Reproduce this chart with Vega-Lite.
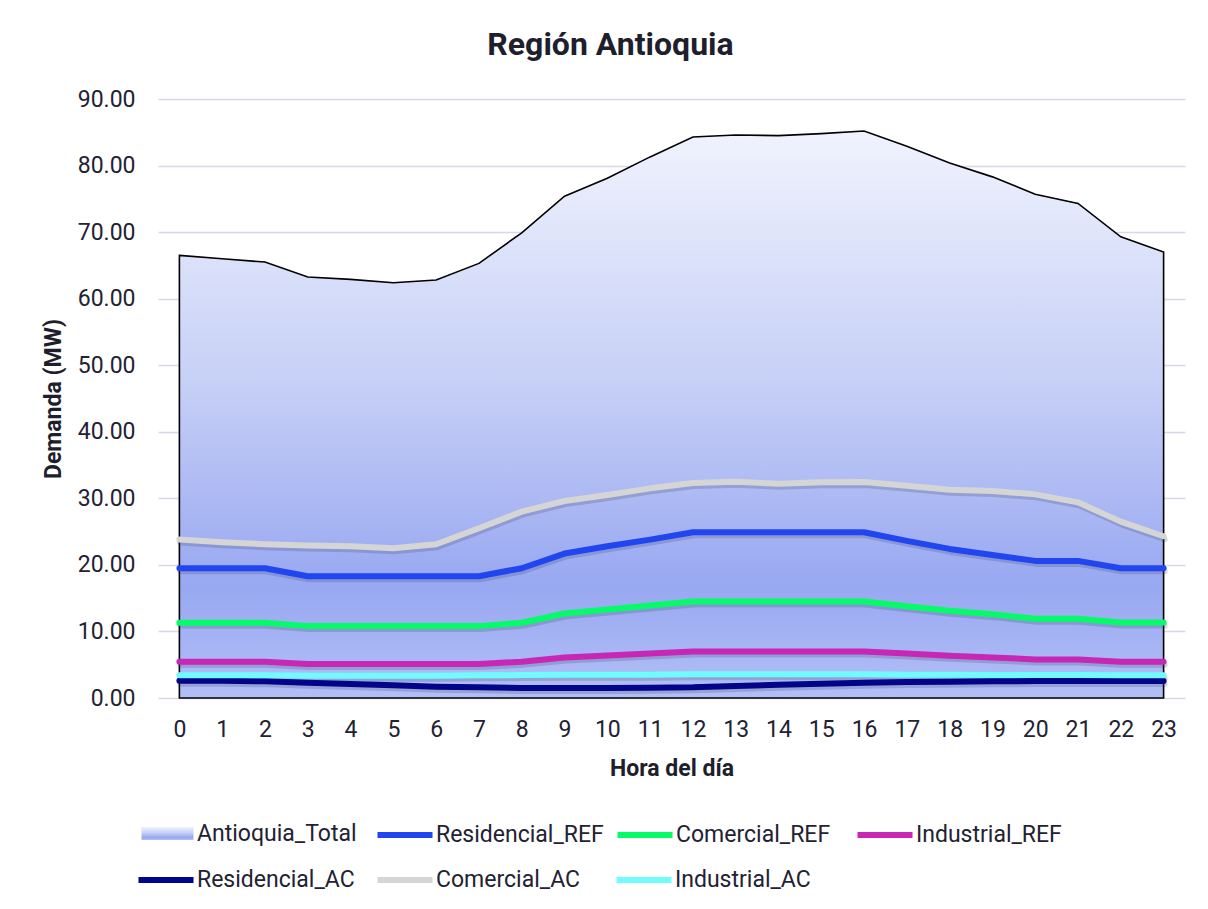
{
  "$schema": "https://vega.github.io/schema/vega-lite/v6.json",
  "width": 1027,
  "height": 599,
  "autosize": {"type": "none"},
  "padding": {"left": 158, "top": 99, "right": 23, "bottom": 211},
  "background": "white",
  "config": {
    "font": "Roboto",
    "view": {"stroke": null},
    "legend": {
      "title": null,
      "orient": "none",
      "direction": "horizontal",
      "gridAlign": "all",
      "padding": 0,
      "symbolSize": 400,
      "labelOffset": 18,
      "labelFontSize": 23,
      "labelFont": "Roboto",
      "labelColor": "#222232",
      "labelLimit": 300
    }
  },
  "title": {
    "text": "Región Antioquia",
    "font": "Roboto",
    "fontSize": 32,
    "fontWeight": "bold",
    "color": "#1e1e2d",
    "anchor": "middle",
    "dx": -61,
    "baseline": "alphabetic",
    "offset": 1
  },
  "data": {
    "values": [
      {"h": 0, "Antioquia_Total": 66.5, "Residencial_REF": 19.5, "Comercial_REF": 11.3, "Industrial_REF": 5.45, "Residencial_AC": 2.6, "Comercial_AC": 23.8, "Industrial_AC": 3.4},
      {"h": 1, "Antioquia_Total": 66.0, "Residencial_REF": 19.5, "Comercial_REF": 11.3, "Industrial_REF": 5.45, "Residencial_AC": 2.6, "Comercial_AC": 23.4, "Industrial_AC": 3.4},
      {"h": 2, "Antioquia_Total": 65.5, "Residencial_REF": 19.5, "Comercial_REF": 11.3, "Industrial_REF": 5.45, "Residencial_AC": 2.5, "Comercial_AC": 23.1, "Industrial_AC": 3.4},
      {"h": 3, "Antioquia_Total": 63.25, "Residencial_REF": 18.3, "Comercial_REF": 10.8, "Industrial_REF": 5.1, "Residencial_AC": 2.3, "Comercial_AC": 22.9, "Industrial_AC": 3.35},
      {"h": 4, "Antioquia_Total": 62.9, "Residencial_REF": 18.3, "Comercial_REF": 10.8, "Industrial_REF": 5.1, "Residencial_AC": 2.1, "Comercial_AC": 22.8, "Industrial_AC": 3.35},
      {"h": 5, "Antioquia_Total": 62.4, "Residencial_REF": 18.3, "Comercial_REF": 10.8, "Industrial_REF": 5.1, "Residencial_AC": 1.9, "Comercial_AC": 22.5, "Industrial_AC": 3.35},
      {"h": 6, "Antioquia_Total": 62.8, "Residencial_REF": 18.3, "Comercial_REF": 10.8, "Industrial_REF": 5.1, "Residencial_AC": 1.7, "Comercial_AC": 23.1, "Industrial_AC": 3.35},
      {"h": 7, "Antioquia_Total": 65.3, "Residencial_REF": 18.3, "Comercial_REF": 10.8, "Industrial_REF": 5.1, "Residencial_AC": 1.6, "Comercial_AC": 25.5, "Industrial_AC": 3.4},
      {"h": 8, "Antioquia_Total": 69.9, "Residencial_REF": 19.5, "Comercial_REF": 11.3, "Industrial_REF": 5.45, "Residencial_AC": 1.5, "Comercial_AC": 28.0, "Industrial_AC": 3.45},
      {"h": 9, "Antioquia_Total": 75.4, "Residencial_REF": 21.7, "Comercial_REF": 12.7, "Industrial_REF": 6.1, "Residencial_AC": 1.5, "Comercial_AC": 29.6, "Industrial_AC": 3.5},
      {"h": 10, "Antioquia_Total": 78.1, "Residencial_REF": 22.8, "Comercial_REF": 13.3, "Industrial_REF": 6.4, "Residencial_AC": 1.5, "Comercial_AC": 30.5, "Industrial_AC": 3.5},
      {"h": 11, "Antioquia_Total": 81.3, "Residencial_REF": 23.8, "Comercial_REF": 13.9, "Industrial_REF": 6.7, "Residencial_AC": 1.55, "Comercial_AC": 31.5, "Industrial_AC": 3.5},
      {"h": 12, "Antioquia_Total": 84.3, "Residencial_REF": 24.9, "Comercial_REF": 14.5, "Industrial_REF": 7.0, "Residencial_AC": 1.6, "Comercial_AC": 32.3, "Industrial_AC": 3.55},
      {"h": 13, "Antioquia_Total": 84.6, "Residencial_REF": 24.9, "Comercial_REF": 14.5, "Industrial_REF": 7.0, "Residencial_AC": 1.8, "Comercial_AC": 32.5, "Industrial_AC": 3.55},
      {"h": 14, "Antioquia_Total": 84.5, "Residencial_REF": 24.9, "Comercial_REF": 14.5, "Industrial_REF": 7.0, "Residencial_AC": 2.0, "Comercial_AC": 32.2, "Industrial_AC": 3.55},
      {"h": 15, "Antioquia_Total": 84.8, "Residencial_REF": 24.9, "Comercial_REF": 14.5, "Industrial_REF": 7.0, "Residencial_AC": 2.15, "Comercial_AC": 32.4, "Industrial_AC": 3.55},
      {"h": 16, "Antioquia_Total": 85.2, "Residencial_REF": 24.9, "Comercial_REF": 14.5, "Industrial_REF": 7.0, "Residencial_AC": 2.3, "Comercial_AC": 32.45, "Industrial_AC": 3.55},
      {"h": 17, "Antioquia_Total": 82.9, "Residencial_REF": 23.6, "Comercial_REF": 13.8, "Industrial_REF": 6.7, "Residencial_AC": 2.4, "Comercial_AC": 31.9, "Industrial_AC": 3.5},
      {"h": 18, "Antioquia_Total": 80.4, "Residencial_REF": 22.4, "Comercial_REF": 13.1, "Industrial_REF": 6.35, "Residencial_AC": 2.45, "Comercial_AC": 31.3, "Industrial_AC": 3.5},
      {"h": 19, "Antioquia_Total": 78.3, "Residencial_REF": 21.5, "Comercial_REF": 12.6, "Industrial_REF": 6.1, "Residencial_AC": 2.5, "Comercial_AC": 31.1, "Industrial_AC": 3.45},
      {"h": 20, "Antioquia_Total": 75.7, "Residencial_REF": 20.6, "Comercial_REF": 11.9, "Industrial_REF": 5.8, "Residencial_AC": 2.55, "Comercial_AC": 30.6, "Industrial_AC": 3.45},
      {"h": 21, "Antioquia_Total": 74.3, "Residencial_REF": 20.6, "Comercial_REF": 11.9, "Industrial_REF": 5.8, "Residencial_AC": 2.55, "Comercial_AC": 29.4, "Industrial_AC": 3.45},
      {"h": 22, "Antioquia_Total": 69.3, "Residencial_REF": 19.5, "Comercial_REF": 11.35, "Industrial_REF": 5.45, "Residencial_AC": 2.55, "Comercial_AC": 26.5, "Industrial_AC": 3.4},
      {"h": 23, "Antioquia_Total": 67.0, "Residencial_REF": 19.5, "Comercial_REF": 11.35, "Industrial_REF": 5.45, "Residencial_AC": 2.55, "Comercial_AC": 24.3, "Industrial_AC": 3.4}
    ]
  },
  "transform": [
    {"fold": ["Antioquia_Total", "Residencial_REF", "Comercial_REF", "Industrial_REF", "Residencial_AC", "Comercial_AC", "Industrial_AC"], "as": ["s", "v"]}
  ],
  "encoding": {
    "x": {
      "field": "h",
      "type": "ordinal",
      "sort": "ascending",
      "scale": {"type": "point", "padding": 0.5},
      "axis": {
        "title": "Hora del día",
        "labelAngle": 0,
        "labelFontSize": 23,
        "labelFont": "Roboto",
        "labelColor": "#222232",
        "labelBaseline": "middle",
        "labelPadding": 31,
        "ticks": false,
        "tickSize": 0,
        "domain": false,
        "titleFontSize": 23,
        "titleFont": "Roboto",
        "titleFontWeight": "bold",
        "titleColor": "#1e1e2d",
        "titleBaseline": "middle",
        "titleY": 70
      }
    },
    "y": {
      "field": "v",
      "type": "quantitative",
      "scale": {"domain": [0, 90], "nice": false, "zero": true},
      "axis": {
        "title": "Demanda (MW)",
        "values": [0, 10, 20, 30, 40, 50, 60, 70, 80, 90],
        "format": ".2f",
        "labelFontSize": 23,
        "labelFont": "Roboto",
        "labelColor": "#222232",
        "labelPadding": 23,
        "ticks": false,
        "tickSize": 0,
        "domain": false,
        "grid": true,
        "gridColor": "#d8d8e8",
        "gridWidth": 1.5,
        "titleFontSize": 23,
        "titleFont": "Roboto",
        "titleFontWeight": "bold",
        "titleColor": "#1e1e2d",
        "titleAngle": -90,
        "titleAlign": "center",
        "titleBaseline": "middle",
        "titleX": -105,
        "titleY": 299.5
      }
    }
  },
  "layer": [
    {
      "transform": [{"filter": "datum.s === 'Antioquia_Total'"}],
      "mark": {
        "type": "area",
        "strokeWidth": 1.6,
        "fill": {
          "gradient": "linear",
          "x1": 0, "y1": 0, "x2": 0, "y2": 1,
          "stops": [
            {"offset": 0, "color": "#f0f3fd"},
            {"offset": 0.45, "color": "#c6cff6"},
            {"offset": 0.8, "color": "#98a8f1"},
            {"offset": 1, "color": "#b2bff6"}
          ]
        }
      },
      "encoding": {
        "stroke": {"value": "#000000"},
        "opacity": {
          "field": "s",
          "type": "nominal",
          "scale": {"domain": ["Antioquia_Total"], "range": [1]},
          "legend": {
            "legendX": -2,
            "legendY": 723,
            "symbolType": "M-2.6,-0.65H2.6V0.65H-2.6Z",
            "symbolStrokeColor": "#000000",
            "symbolStrokeWidth": 1.5
          }
        }
      }
    },
    {
      "transform": [{"filter": "datum.s !== 'Antioquia_Total'"}],
      "mark": {"type": "line", "stroke": "#3a3f6a", "strokeOpacity": 0.22, "strokeWidth": 6, "yOffset": 3, "xOffset": 1, "strokeCap": "round", "strokeJoin": "round"},
      "encoding": {"detail": {"field": "s", "type": "nominal"}}
    },
    {
      "transform": [{"filter": "datum.s === 'Residencial_AC' || datum.s === 'Comercial_AC' || datum.s === 'Industrial_AC'"}],
      "mark": {"type": "line", "strokeWidth": 6, "strokeCap": "round", "strokeJoin": "round"},
      "encoding": {
        "color": {
          "field": "s",
          "type": "nominal",
          "scale": {
            "domain": ["Residencial_AC", "Comercial_AC", "Industrial_AC"],
            "range": ["#02058a", "#d5d5d5", "#70fbfe"]
          },
          "legend": {
            "legendX": -5,
            "legendY": 768,
            "columns": 3,
            "columnPadding": 10,
            "symbolType": "M-2.75,0H2.75",
            "symbolStrokeWidth": 6
          }
        }
      }
    },
    {
      "transform": [{"filter": "datum.s === 'Residencial_REF' || datum.s === 'Comercial_REF' || datum.s === 'Industrial_REF'"}],
      "mark": {"type": "line", "strokeWidth": 6, "strokeCap": "round", "strokeJoin": "round"},
      "encoding": {
        "stroke": {
          "field": "s",
          "type": "nominal",
          "scale": {
            "domain": ["Residencial_REF", "Comercial_REF", "Industrial_REF"],
            "range": ["#2146ef", "#05fb68", "#c826b4"]
          },
          "legend": {
            "legendX": 234,
            "legendY": 723,
            "columns": 3,
            "columnPadding": 1,
            "symbolType": "M-2.75,0H2.75",
            "symbolStrokeWidth": 6
          }
        }
      }
    }
  ]
}
